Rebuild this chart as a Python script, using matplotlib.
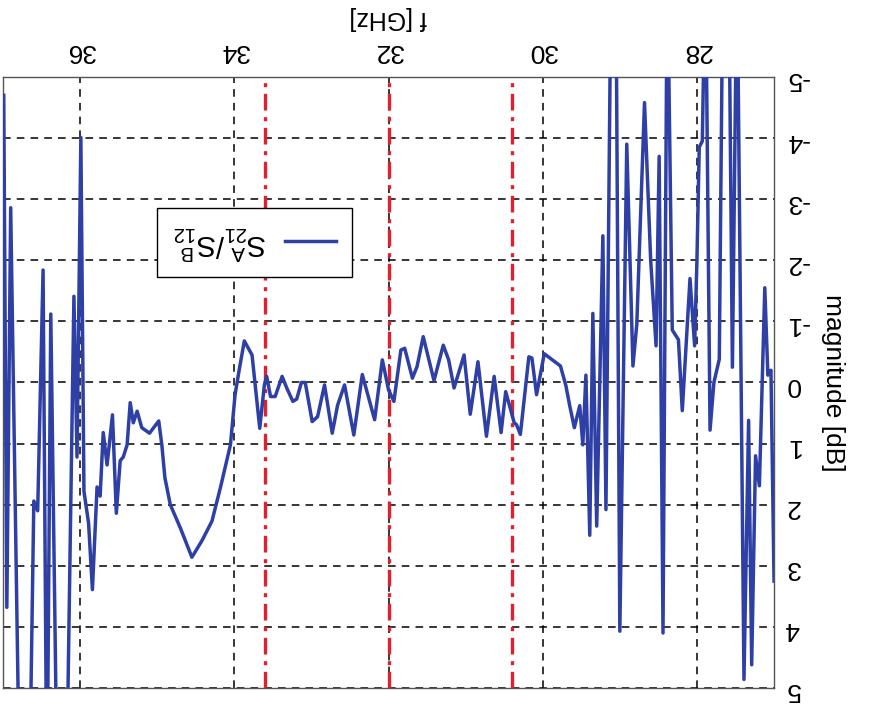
import matplotlib
matplotlib.use("Agg")
import matplotlib.pyplot as plt

plt.rcParams['font.family'] = ['Liberation Sans', 'DejaVu Sans']
plt.rcParams['mathtext.fontset'] = 'custom'
plt.rcParams['mathtext.rm'] = 'Liberation Sans'
plt.rcParams['mathtext.it'] = 'Liberation Sans'
plt.rcParams['mathtext.bf'] = 'Liberation Sans:bold'
plt.rcParams['axes.unicode_minus'] = False

# frequency [GHz] and magnitude [dB] of S21A/S12B (values beyond +/-5 dB are clipped by the axes)
freq = [27.00, 27.04, 27.08, 27.12, 27.19, 27.24, 27.29, 27.33, 27.39, 27.48,
        27.54, 27.625, 27.71, 27.78, 27.83, 27.89, 27.93, 27.97, 28.00, 28.03,
        28.09, 28.19, 28.24, 28.32, 28.385, 28.44, 28.49, 28.53, 28.60, 28.68,
        28.78, 28.83, 28.91, 29.00, 29.075, 29.18, 29.22, 29.30, 29.35, 29.39,
        29.44, 29.48, 29.52, 29.59, 29.65, 29.70, 29.77, 29.98, 30.08, 30.14,
        30.18, 30.22, 30.29, 30.34, 30.37, 30.48, 30.54, 30.63, 30.73, 30.84,
        30.94, 31.02, 31.15, 31.22, 31.29, 31.41, 31.48, 31.55, 31.63, 31.69,
        31.79, 31.84, 31.93, 32.00, 32.08, 32.18, 32.28, 32.34, 32.45, 32.57,
        32.66, 32.73, 32.83, 32.92, 32.99, 33.08, 33.13, 33.19, 33.24, 33.32,
        33.38, 33.47, 33.53, 33.58, 33.61, 33.67, 33.77, 33.87, 33.94, 33.99,
        34.05, 34.18, 34.29, 34.42, 34.55, 34.70, 34.83, 34.90, 34.94, 34.98,
        35.10, 35.20, 35.26, 35.31, 35.35, 35.39, 35.44, 35.48, 35.53, 35.58,
        35.65, 35.70, 35.74, 35.78, 35.84, 35.89, 35.95, 35.99, 36.04, 36.08,
        36.24, 36.38, 36.43, 36.48, 36.55, 36.60, 36.72, 36.90, 36.95, 36.99]
mag = [3.25, -0.20, -0.12, -1.55, 1.69, 1.20, 4.62, 0.62, 4.86, -7.0,
       -0.25, -12.0, -0.38, 0.00, 0.78, -7.0, -3.95, -3.85, -2.00, -0.60,
       -1.70, 0.46, -0.70, -0.86, -7.0, 4.10, -3.70, -0.60, -2.00, -4.58,
       -0.95, -0.27, -3.90, 4.07, -12.0, 2.08, -2.40, 2.35, -1.13, 2.50,
       -0.12, 1.02, 0.38, 0.74, 0.38, 0.05, -0.27, -0.47, 0.20, -0.40,
       -0.42, 0.04, 0.85, 0.69, 0.66, 0.15, 0.82, -0.10, 0.88, -0.34,
       0.52, -0.45, 0.09, -0.37, -0.61, -0.03, -0.39, -0.75, -0.26, -0.07,
       -0.56, -0.53, 0.31, 0.12, -0.37, 0.61, 0.15, -0.13, 0.86, 0.04,
       0.37, 0.83, 0.04, 0.56, 0.64, 0.00, 0.00, 0.27, 0.31, 0.09,
       -0.10, 0.23, 0.23, -0.10, 0.04, 0.75, -0.45, -0.68, -0.18, 0.20,
       1.02, 1.72, 2.27, 2.59, 2.86, 2.38, 2.00, 1.56, 1.02, 0.63,
       0.83, 0.74, 0.47, 0.66, 0.33, 1.02, 1.22, 1.28, 2.14, 0.53,
       1.35, 0.82, 1.86, 1.71, 3.39, 2.30, 1.78, -4.01, 1.22, -1.41,
       12.0, -1.12, 7.0, -1.84, 2.10, 1.94, 12.0, -2.86, 3.68, -4.70]

band_lines = [30.4, 32.0, 33.6]
xticks = [28, 30, 32, 34, 36]
yticks = [-5, -4, -3, -2, -1, 0, 1, 2, 3, 4, 5]
series_label = r'$S^{A}_{21}/S^{B}_{12}$'

fig = plt.figure(figsize=(8.77, 7.06), dpi=100)
ax = fig.add_axes([0.0034, 0.0255, 0.8792, 0.8655])

ax.plot(freq, mag, color='#2E3FA6', lw=2.5, label=series_label, zorder=3)
for xv in band_lines:
    ax.axvline(xv, color='#E0202E', lw=2.4, ls=(0, (5, 2, 1.2, 2)), zorder=2)

ax.set_xlim(37, 27)
ax.set_ylim(5, -5)
ax.set_xticks(xticks)
ax.set_yticks(yticks)
ax.grid(True, color='black', ls=(0, (5, 4)), lw=1.1)
ax.set_axisbelow(True)

ax.xaxis.tick_top()
ax.yaxis.tick_right()
ax.xaxis.set_label_position('top')
ax.yaxis.set_label_position('right')
ax.tick_params(axis='both', direction='in', length=0, labelsize=19, colors='black')
ax.tick_params(axis='x', pad=10)
ax.tick_params(axis='y', pad=8)
for lab in ax.get_xticklabels() + ax.get_yticklabels():
    lab.set_rotation(180)

ax.set_xlabel('f [GHz]', fontsize=18, rotation=180, labelpad=10)
ax.set_ylabel('magnitude [dB]', fontsize=19, rotation=270, labelpad=26)

for sp in ax.spines.values():
    sp.set_color('#555555')
    sp.set_linewidth(1.0)

leg = ax.legend(loc='upper left', bbox_to_anchor=(0.2, 0.786), fontsize=21,
                markerfirst=False, fancybox=False, framealpha=1,
                edgecolor='black', handlelength=1.75, borderpad=0.55,
                handletextpad=0.6, borderaxespad=0)
leg.get_frame().set_linewidth(1.0)
for t in leg.get_texts():
    t.set_rotation(180)

fig.savefig('out.png', dpi=100)
